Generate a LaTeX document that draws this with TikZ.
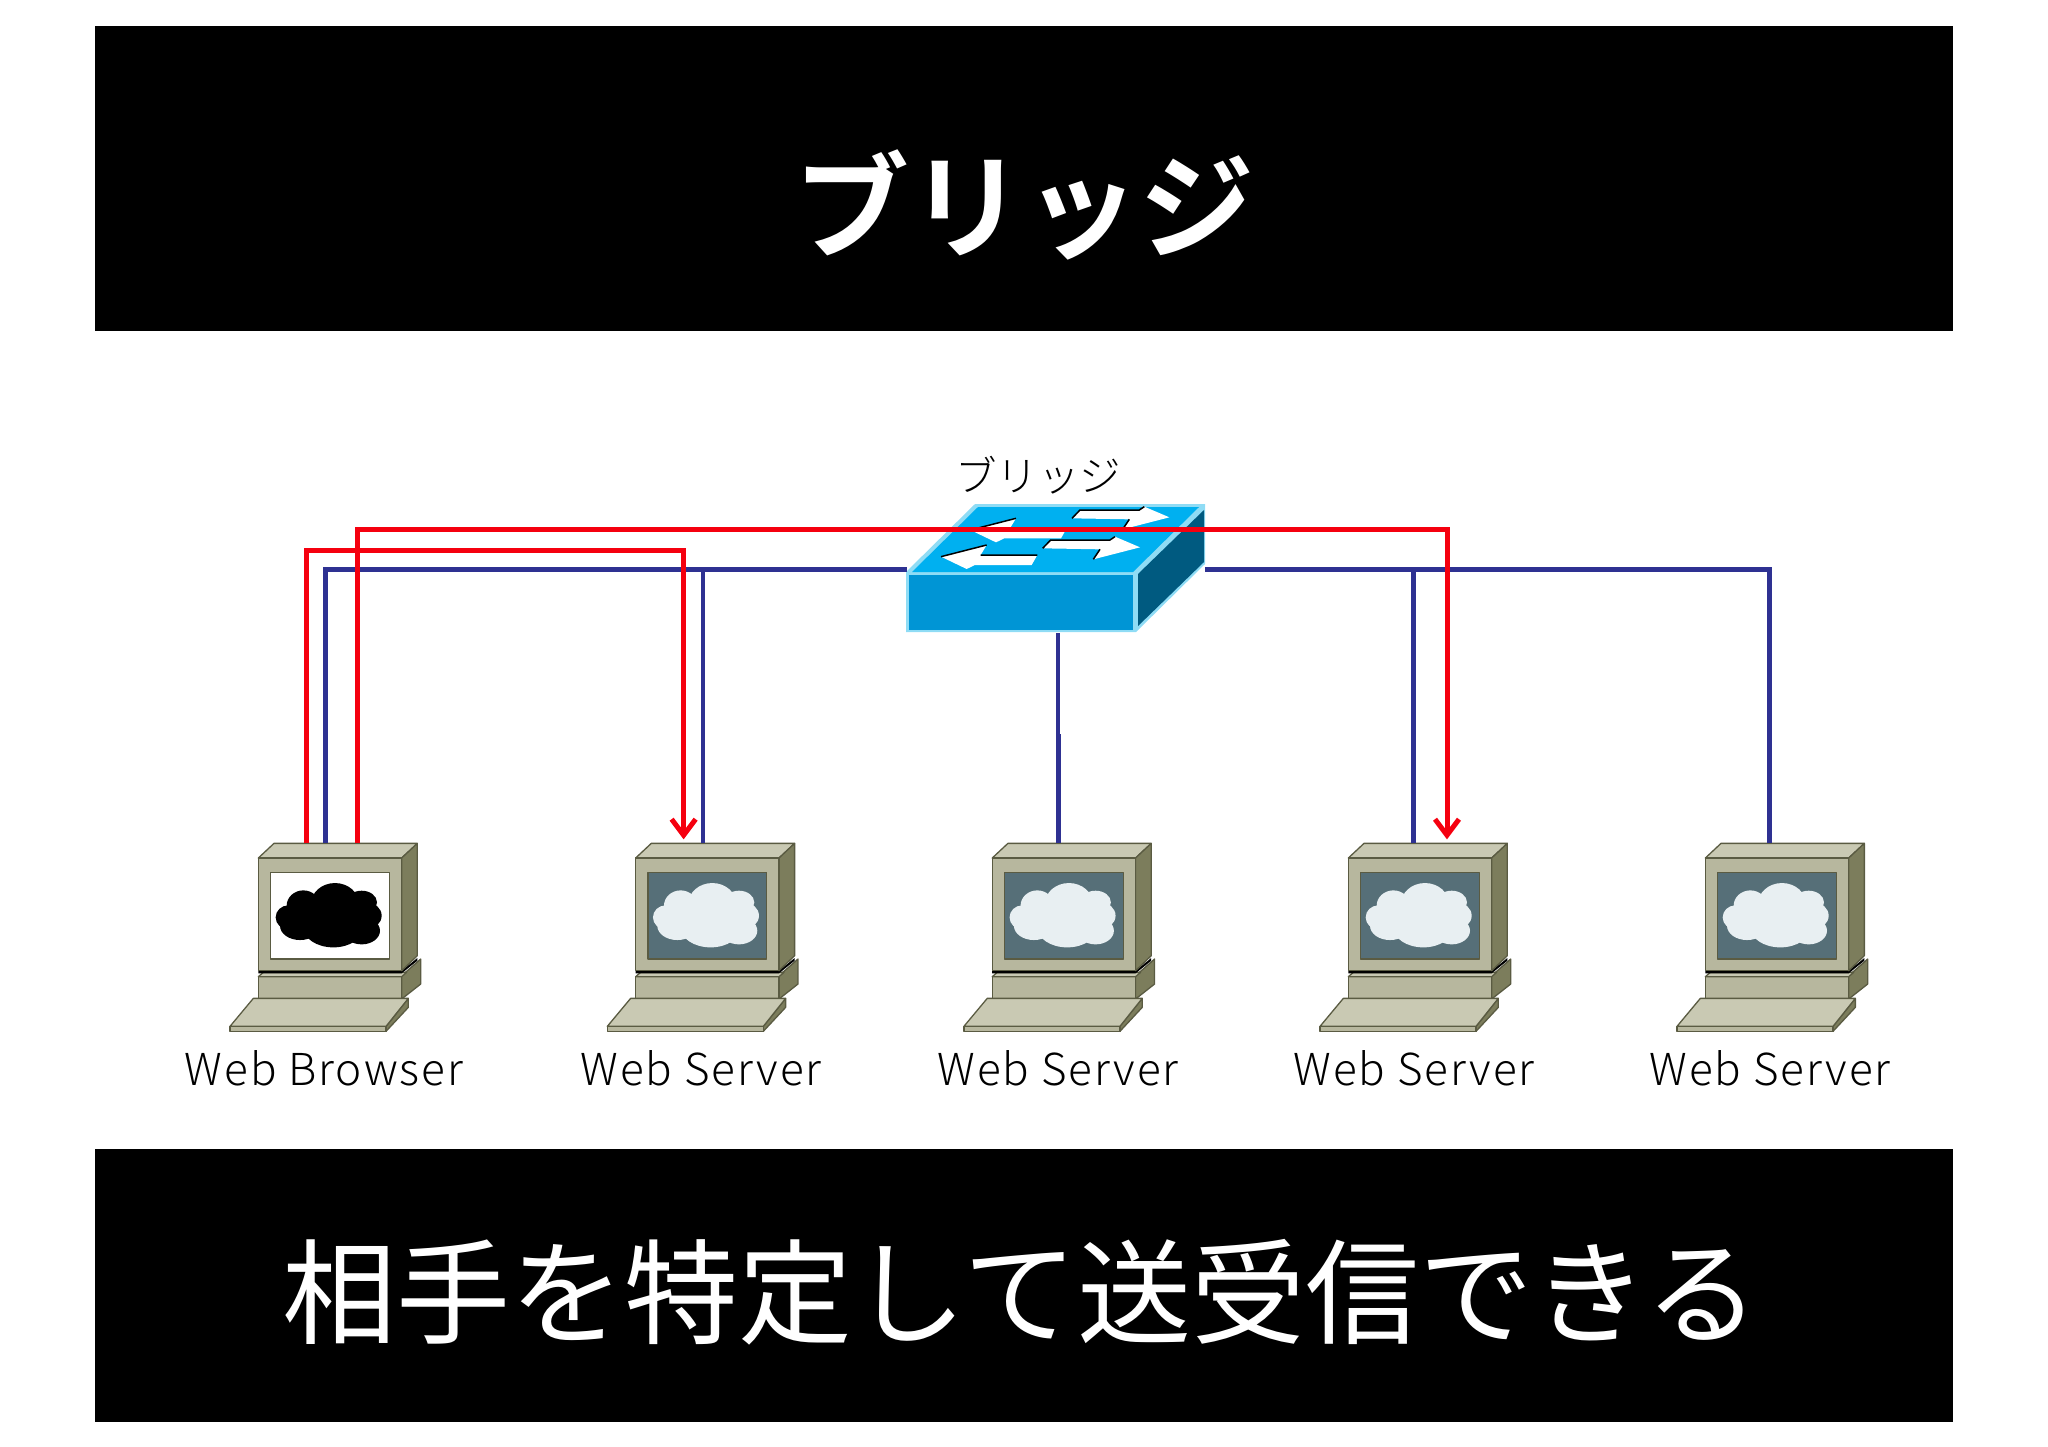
\documentclass[tikz,border=0pt]{standalone}
\usepackage{fontspec}
\setmainfont{Noto Sans CJK JP}[UprightFont=* Light,BoldFont=* Bold]
\newfontfamily\capfont{Noto Sans CJK JP}
\usetikzlibrary{arrows.meta}

\definecolor{pcfront}{HTML}{B7B79E}
\definecolor{pctop}{HTML}{C9C9B3}
\definecolor{pcside}{HTML}{7C7D5C}
\definecolor{pcedge}{HTML}{5A5B42}
\definecolor{pcscreen}{HTML}{566F78}
\definecolor{pccloud}{HTML}{E8EFF2}
\definecolor{swtop}{HTML}{00B0F0}
\definecolor{swfront}{HTML}{0095D5}
\definecolor{swside}{HTML}{005A80}
\definecolor{swedge}{HTML}{8FDCF5}
\definecolor{wire}{HTML}{2E3192}
\definecolor{flow}{HTML}{F5000F}

\tikzset{
    banner/.style={fill=black},
    wireline/.style={draw=wire,line width=4.7pt},
    flowline/.style={draw=flow,line width=5pt},
    pctext/.style={font=\fontsize{44}{44}\selectfont\addfontfeature{LetterSpace=4.5},inner sep=0pt},
    pcpart/.style={draw=pcedge,line width=1.3pt,line join=round},
    pics/pcicon/.style 2 args={code={
        \begin{scope}[scale=1/3]
            % base and keyboard
            \fill[pcpart,fill=pcside] (575,465) -- (632,415) -- (632,490) -- (575,535) -- cycle;
            \fill[pcpart,fill=pcfront] (145,468) rectangle (575,535);
            \fill[pcpart,fill=pctop] (145,468) -- (160,455) -- (590,455) -- (575,468) -- cycle;
            \fill[pcpart,fill=pcside] (528,617) -- (595,533) -- (595,560) -- (528,632) -- cycle;
            \fill[pcpart,fill=pctop] (60,617) -- (130,533) -- (595,533) -- (528,617) -- cycle;
            \fill[pcpart,fill=pcfront] (60,617) rectangle (528,632);
            % monitor
            \fill[black] (145,450) -- (575,450) -- (622,412) -- (622,420) -- (575,458) -- (145,458) -- cycle;
            \fill[pcpart,fill=pctop] (145,112) -- (192,68) -- (622,68) -- (575,112) -- cycle;
            \fill[pcpart,fill=pcside] (575,112) -- (622,68) -- (622,405) -- (575,450) -- cycle;
            \fill[pcpart,fill=pcfront] (145,112) rectangle (575,450);
            \fill[pcpart,fill=#1] (182,155) rectangle (538,415);
            % cloud
            \fill[#2] (280,255) ellipse (50 and 46);
            \fill[#2] (375,250) ellipse (72 and 63);
            \fill[#2] (455,245) ellipse (46 and 35);
            \fill[#2] (470,285) ellipse (45 and 40);
            \fill[#2] (455,330) ellipse (55 and 41);
            \fill[#2] (370,320) ellipse (90 and 60);
            \fill[#2] (270,315) ellipse (60 and 43);
            \fill[#2] (235,290) ellipse (38 and 36);
            \coordinate (-a) at (289,68);
            \coordinate (-b) at (347,68);
            \coordinate (-c) at (441,68);
        \end{scope}
    }},
}

\begin{document}
\begin{tikzpicture}[x=1pt,y=-1pt]
    \useasboundingbox (0,0) rectangle (2048,1447);

    \fill[banner] (95,26) rectangle (1953,331);
    \fill[banner] (95,1149) rectangle (1953,1422);
    \node[text=white,font=\fontsize{115}{115}\selectfont\bfseries,inner sep=0pt] (title) at (1024,205) {ブリッジ};
    \node[text=white,font=\fontsize{114}{114}\selectfont\capfont,inner sep=0pt] (caption) at (1021,1292) {相手を特定して送受信できる};

    % computers
    \pic (browser) at (210,820.7) {pcicon={white}{black}};
    \pic (srva) at (587.3,820.7) {pcicon={pcscreen}{pccloud}};
    \pic (srvb) at (943.9,820.7) {pcicon={pcscreen}{pccloud}};
    \pic (srvc) at (1300,820.7) {pcicon={pcscreen}{pccloud}};
    \pic (srvd) at (1657,820.7) {pcicon={pcscreen}{pccloud}};

    \node[pctext] (lbla) at (324,1068) {Web Browser};
    \node[pctext] (lblb) at (701,1068) {Web Server};
    \node[pctext] (lblc) at (1058,1068) {Web Server};
    \node[pctext] (lbld) at (1414,1068) {Web Server};
    \node[pctext] (lble) at (1770,1068) {Web Server};

    % bridge
    \coordinate (bridgel) at (907,569.5);
    \coordinate (bridger) at (1205,569.5);
    \coordinate (bridged) at (1058,633);
    \fill[swedge] (906,572) -- (975,504) -- (1205,504) -- (1205,564) -- (1136,632) -- (906,632) -- cycle;
    \fill[swtop] (912,572) -- (978,507) -- (1199,507) -- (1133,572) -- cycle;
    \fill[swside] (1138,574) -- (1204,510) -- (1204,562) -- (1138,626) -- cycle;
    \fill[swfront] (909,575) rectangle (1133,630);
    \begin{scope}[shift={(880,430)},scale=1/3]
        \foreach \dx/\dy in {0/0,88/-80} {
            \fill[white,shift={(\dx,\dy)}] (183,380) -- (320,345) -- (302,375) -- (472,375) -- (455,405) -- (285,405) -- (260,417) -- cycle;
            \draw[black,line width=1.5pt,shift={(\dx,\dy)}] (183,380) -- (320,345) (302,375) -- (472,375);
        }
        \foreach \dx/\dy in {0/0,88/-90} {
            \fill[white,shift={(\dx,\dy)}] (780,352) -- (705,320) -- (690,330) -- (512,330) -- (488,355) -- (660,358) -- (640,388) -- cycle;
            \draw[black,line width=1.5pt,shift={(\dx,\dy)}] (705,320) -- (690,330) -- (512,330) -- (488,355) (660,358) -- (640,388);
        }
    \end{scope}
    \node[font=\fontsize{41.5}{42}\selectfont,inner sep=0pt] (bridgelbl) at (1038,475) {ブリッジ};

    % wires
    \draw[wireline] (browser-b) |- (bridgel);
    \draw[wireline] (srva-b) |- (bridgel);
    \draw[wireline] ([xshift=-3pt]srvd-b) |- (bridger);
    \draw[wireline] ([xshift=-2pt]srvc-b) |- (bridger);
    \draw[wireline] (bridged) -- ++(0,103) -| ([xshift=-1pt]srvb-b);

    % traffic
    \coordinate (turna) at (0,550);
    \coordinate (turnb) at (0,529.5);
    \draw[flowline,-{Straight Barb[length=16pt,width=24pt]}] (browser-a) |- (turna -| srva-a) -- ([yshift=4pt]srva-a);
    \draw[flowline,-{Straight Barb[length=16pt,width=24pt]}] (browser-c) |- (turnb -| srvc-c) -- ([yshift=4pt]srvc-c);
\end{tikzpicture}
\end{document}
